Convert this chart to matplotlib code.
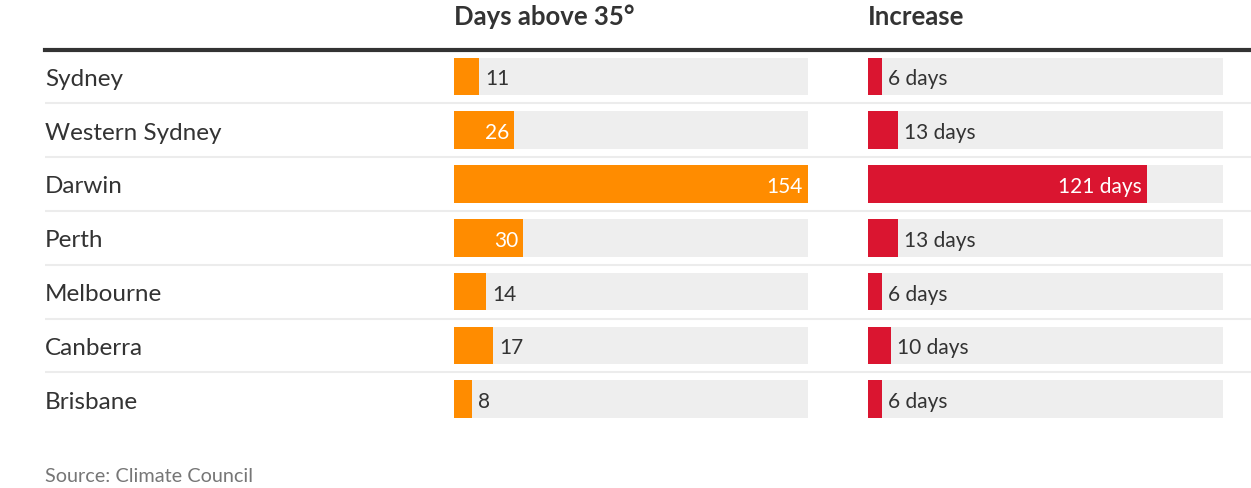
import matplotlib
matplotlib.use("Agg")
import matplotlib.pyplot as plt

cities = ["Sydney", "Western Sydney", "Darwin", "Perth", "Melbourne", "Canberra", "Brisbane"]
days_above_35 = [11, 26, 154, 30, 14, 17, 8]
increase = [6, 13, 121, 13, 6, 10, 6]
col_titles = ["Days above 35°", "Increase"]
source = "Source: Climate Council"
scale_max = 154

W, H = 1251, 489
DPI = 100
plt.rcParams['font.family'] = ['Lato', 'DejaVu Sans']

fig = plt.figure(figsize=(W / DPI, H / DPI), dpi=DPI)
fig.patch.set_facecolor("white")

def fx(px):
    return px / W

def fy(py):
    return 1 - py / H

top_px = 50.5
row_px = 53.8
n = len(cities)
bottom_px = top_px + n * row_px
bar_h = 37.5 / row_px

# background axis for lines + city labels
bg = fig.add_axes([fx(45), fy(bottom_px), fx(W - 45), (bottom_px - top_px) / H])
bg.set_xlim(0, 1)
bg.set_ylim(n - 0.5, -0.5)
bg.axis("off")
for i in range(n - 1):
    bg.axhline(i + 0.5, color="#ececec", lw=1.5, zorder=0)
bg.axhline(-0.5, color="#333333", lw=3, zorder=1, clip_on=False)
for i, c in enumerate(cities):
    bg.annotate(c, (0, i), xytext=(0, -2), textcoords="offset pixels",
                ha="left", va="center", fontsize=17.5, color="#333333")

def draw_col(left_px, width_px, vals, color, suffix):
    ax = fig.add_axes([fx(left_px), fy(bottom_px), width_px / W, (bottom_px - top_px) / H])
    ax.set_xlim(0, scale_max)
    ax.set_ylim(n - 0.5, -0.5)
    ax.axis("off")
    ys = list(range(n))
    ax.barh(ys, [scale_max] * n, height=bar_h, color="#eeeeee", lw=0)
    ax.barh(ys, vals, height=bar_h, color=color, lw=0)
    for y, v in zip(ys, vals):
        lab = f"{v}{suffix}"
        if v > 0.15 * scale_max:
            ax.annotate(lab, (v, y), xytext=(-5, -2), textcoords="offset pixels",
                        ha="right", va="center", fontsize=15, color="white")
        else:
            ax.annotate(lab, (v, y), xytext=(6, -2), textcoords="offset pixels",
                        ha="left", va="center", fontsize=15, color="#333333")
    return ax

draw_col(454, 354, days_above_35, "#ff8c00", "")
draw_col(868, 355, increase, "#da1530", " days")

fig.text(fx(454), fy(25), col_titles[0], ha="left", va="baseline",
         fontsize=18.5, fontweight="bold", color="#333333")
fig.text(fx(868), fy(25), col_titles[1], ha="left", va="baseline",
         fontsize=18.5, fontweight="bold", color="#333333")
fig.text(fx(45), fy(482), source, ha="left", va="baseline", fontsize=14.3, color="#767676")

fig.savefig("out.png", dpi=DPI, facecolor="white")
